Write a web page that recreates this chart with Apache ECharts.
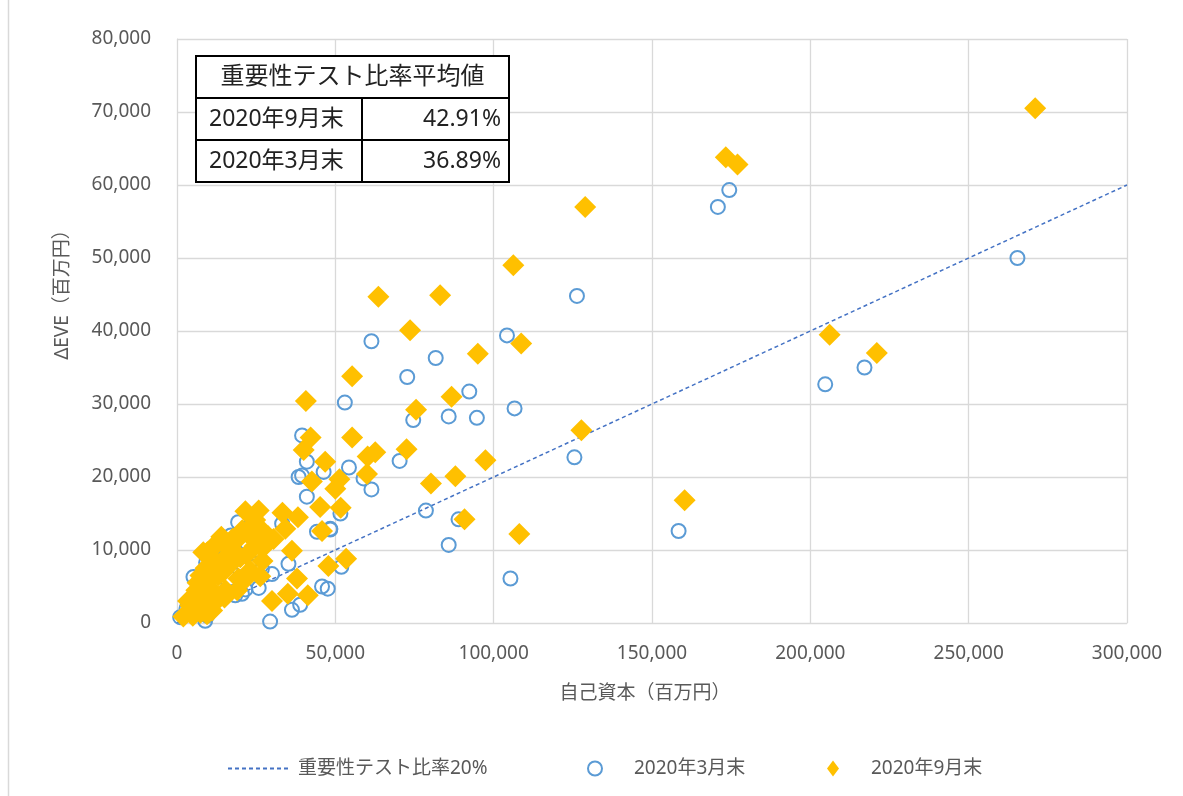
<!DOCTYPE html>
<html lang="ja">
<head>
<meta charset="UTF-8" />
<title>重要性テスト比率</title>
<style>
  html, body { margin: 0; padding: 0; background: #fff; }
  #main { width: 1183px; height: 796px; }
</style>
</head>
<body>
<div id="main"></div>
<script src="https://cdn.jsdelivr.net/npm/echarts@6/dist/echarts.min.js"></script>
<script>
// 2020年3月末: 自己資本 / ΔEVE（百万円）
const marX = [265400, 174400, 170800, 126300, 217100, 204700, 158400, 125500, 105300, 104200,
  106600, 81700, 72700, 61400, 92300, 53000, 74600, 85800, 94700, 54300,
  58900, 70300, 61400, 51600, 48400, 78600, 88900, 85800, 51900, 45800,
  47600, 39500, 41000, 38400, 39500, 46300, 41000, 44200, 48400, 35200,
  30000, 26800, 36300, 38900, 29400, 21600, 25800, 19300, 33200, 13100,
  9200, 20500, 20500, 9500, 5200, 16800, 8900, 1000, 24200, 18400,
  12000, 15000, 7000, 3000, 22000, 17000, 11000, 25000];
const marY = [50000, 59300, 57000, 44800, 35000, 32700, 12600, 22700, 6100, 39400,
  29400, 36300, 33700, 38600, 31700, 30200, 27800, 28300, 28100, 21300,
  19800, 22200, 18300, 15000, 12800, 15400, 14200, 10700, 7700, 5000,
  4700, 25700, 22100, 20000, 20200, 20700, 17300, 12500, 12900, 8100,
  6700, 7400, 1800, 2500, 200, 4600, 4800, 13800, 13600, 10900,
  8300, 8100, 4000, 1000, 6300, 6100, 300, 800, 7700, 3800,
  5000, 9000, 3000, 2000, 11000, 12000, 7000, 10000];

// 2020年9月末
const sepX = [271000, 173300, 177000, 128900, 106200, 63600, 83100, 73600, 108700, 95000,
  55300, 86700, 40700, 75500, 127700, 42200, 55300, 40000, 60200, 62600,
  72500, 97400, 46800, 51300, 60000, 42600, 80200, 87900, 50000, 45200,
  51700, 90800, 108100, 45800, 53400, 47800, 206100, 221000, 160300, 36300,
  37900, 35000, 41300, 30000, 21600, 25800, 33300, 38200, 34200, 30500,
  24700, 26300, 2000, 4200, 6100, 7400, 9600, 10500, 12100, 13000,
  14400, 16200, 17400, 18700, 20600, 21900, 23100, 23800, 25700, 26900,
  28800, 11100, 7400, 15300, 19400, 11800, 13700, 8300, 11600, 5000,
  9000, 8500, 15000, 3500, 5500, 6500, 8500, 9000, 10500, 12000,
  13500, 14500, 16000, 17500, 19000, 20000, 21500, 23000, 24500, 27000,
  14000, 9500];
const sepY = [70500, 63800, 62800, 57000, 49000, 44700, 44900, 40100, 38300, 36900,
  33800, 31000, 30400, 29200, 26400, 25400, 25400, 23700, 22800, 23400,
  23800, 22300, 22100, 19700, 20400, 19400, 19100, 20100, 18400, 15900,
  15800, 14200, 12200, 12600, 8800, 7800, 39500, 37000, 16800, 9900,
  6100, 4000, 3800, 3000, 15300, 15400, 15100, 14500, 12900, 11500,
  14100, 6400, 900, 2400, 4500, 6500, 9700, 4700, 3100, 6500,
  8600, 10200, 8300, 11300, 12700, 9300, 7200, 11600, 13200, 10200,
  11900, 1700, 1400, 4500, 6100, 10600, 11300, 9700, 10400, 1000,
  3000, 5500, 3500, 3000, 2000, 5500, 3000, 7500, 6000, 8500,
  3500, 7000, 4000, 11500, 4500, 9000, 6000, 13000, 10500, 8500,
  11800, 1200];

// 重要性テスト比率20%
const ratioX = [0, 300000];
const ratioY = [0, 60000];

const tableTitle = "重要性テスト比率平均値";
const tableLabels = ["2020年9月末", "2020年3月末"];
const tableValues = ["42.91%", "36.89%"];

const zip = (xs, ys) => xs.map((x, i) => [x, ys[i]]);
const FONT = "'Noto Sans', 'Noto Sans CJK JP', sans-serif";
const GREY = "#595959";

const myChart = echarts.init(document.getElementById("main"));

// 表（左上）
const tL = 196, tR = 509, tMid = 362, tTop = 56, rowH = 42;
const tableGraphic = [
  { type: "rect", shape: { x: tL, y: tTop, width: tR - tL, height: rowH * 3 },
    style: { fill: "#fff", stroke: "#000", lineWidth: 2 }, z: 10 },
  { type: "line", shape: { x1: tL, y1: tTop + rowH, x2: tR, y2: tTop + rowH },
    style: { stroke: "#000", lineWidth: 2 }, z: 11 },
  { type: "line", shape: { x1: tL, y1: tTop + rowH * 2, x2: tR, y2: tTop + rowH * 2 },
    style: { stroke: "#000", lineWidth: 2 }, z: 11 },
  { type: "line", shape: { x1: tMid, y1: tTop + rowH, x2: tMid, y2: tTop + rowH * 3 },
    style: { stroke: "#000", lineWidth: 2 }, z: 11 },
  { type: "text", x: (tL + tR) / 2, y: tTop + rowH / 2, z: 12,
    style: { text: tableTitle, font: "24px " + FONT, fill: "#222", align: "center", verticalAlign: "middle" } }
];
tableLabels.forEach((lab, i) => {
  const cy = tTop + rowH * (i + 1) + rowH / 2;
  tableGraphic.push({ type: "text", x: tL + 13, y: cy, z: 12,
    style: { text: lab, font: "23px " + FONT, fill: "#222", align: "left", verticalAlign: "middle" } });
  tableGraphic.push({ type: "text", x: tR - 8, y: cy, z: 12,
    style: { text: tableValues[i], font: "23px " + FONT, fill: "#222", align: "right", verticalAlign: "middle" } });
});

const option = {
  animation: false,
  backgroundColor: "#fff",
  textStyle: { fontFamily: FONT },
  grid: { left: 177, right: 56, top: 39, bottom: 173 },
  xAxis: {
    type: "value", min: 0, max: 300000, interval: 50000,
    axisLine: { show: true, lineStyle: { color: "#D9D9D9", width: 1 } },
    axisTick: { show: false },
    splitLine: { show: true, lineStyle: { color: "#D9D9D9", width: 1.3 } },
    axisLabel: { color: GREY, fontSize: 19, margin: 21,
      formatter: v => v.toLocaleString("en-US") }
  },
  yAxis: {
    type: "value", min: 0, max: 80000, interval: 10000,
    axisLine: { show: true, lineStyle: { color: "#D9D9D9", width: 1 } },
    axisTick: { show: false },
    splitLine: { show: true, lineStyle: { color: "#D9D9D9", width: 1.3 } },
    axisLabel: { color: GREY, fontSize: 19, margin: 26,
      formatter: v => v.toLocaleString("en-US") }
  },
  legend: [
    { data: ["重要性テスト比率20%"], left: 222, top: 754, itemWidth: 60, itemHeight: 14,
      itemStyle: { opacity: 0 },
      textStyle: { color: GREY, fontSize: 19, padding: [0, 0, 0, 5] } },
    { data: ["2020年3月末"], left: 582, top: 754, itemWidth: 14, itemHeight: 14,
      textStyle: { color: GREY, fontSize: 19, padding: [0, 0, 0, 27] } },
    { data: ["2020年9月末"], left: 822, top: 754, itemWidth: 12, itemHeight: 16,
      textStyle: { color: GREY, fontSize: 19, padding: [0, 0, 0, 27] } }
  ],
  graphic: [
    { type: "line", shape: { x1: 8.5, y1: 0, x2: 8.5, y2: 796 },
      style: { stroke: "#D9D9D9", lineWidth: 1.5 } },
    { type: "text", x: 645, y: 694,
      style: { text: "自己資本（百万円）", font: "19px " + FONT, fill: GREY, align: "center", verticalAlign: "middle" } },
    { type: "text", x: 63, y: 290, rotation: Math.PI / 2,
      style: { text: "ΔEVE（百万円）", font: "19px " + FONT, fill: GREY, align: "center", verticalAlign: "middle" } }
  ].concat(tableGraphic),
  series: [
    {
      name: "重要性テスト比率20%",
      type: "line",
      data: zip(ratioX, ratioY),
      showSymbol: false,
      symbol: "none",
      lineStyle: { color: "#4472C4", width: 1.5, type: [4, 3] },
      itemStyle: { color: "#4472C4" },
      z: 3
    },
    {
      name: "2020年3月末",
      type: "scatter",
      data: zip(marX, marY),
      symbol: "circle",
      symbolSize: 14,
      itemStyle: { color: "rgba(255,255,255,0)", borderColor: "#5B9BD5", borderWidth: 2, opacity: 1 },
      z: 4
    },
    {
      name: "2020年9月末",
      type: "scatter",
      data: zip(sepX, sepY),
      symbol: "diamond",
      symbolSize: [22, 22],
      itemStyle: { color: "#FFC000", opacity: 1 },
      z: 5
    }
  ]
};

myChart.setOption(option);
</script>
</body>
</html>
